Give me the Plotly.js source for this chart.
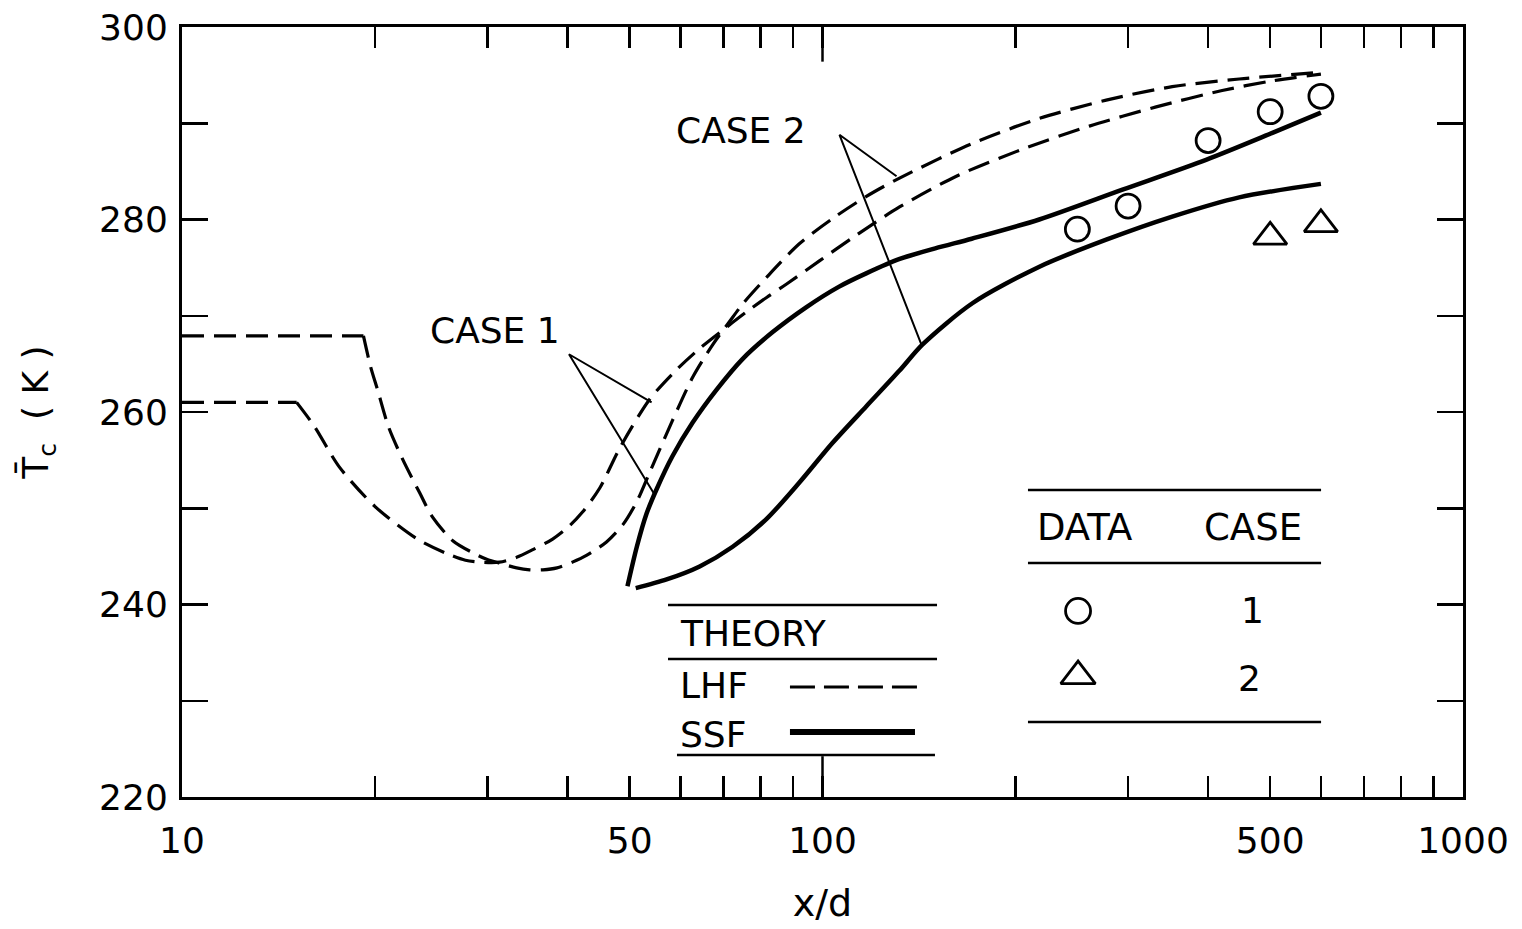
<!DOCTYPE html>
<html>
<head>
<meta charset="utf-8">
<script src="https://cdn.plot.ly/plotly-3.0.1.min.js"></script>
<style>
  html, body { margin: 0; padding: 0; background: #fff; }
  #chart { width: 1522px; height: 929px; }
</style>
</head>
<body>
<div id="chart"></div>
<script>
// Centerline temperature vs. axial distance, LHF and SSF theory with data

// LHF (dashed) theory, case 1 (first two points: the constant initial stretch)
const lhf1X = [10, 15.1, 16.1, 17.6, 20.0, 23.3, 25.9, 27.7, 29.2, 31.3, 33.3, 35.3, 37.9, 40.3, 42.2, 44.9, 48.2, 53.7, 59.2, 64.3, 70.8, 76.1, 81.8, 87.9, 98.9, 111.4, 131.9, 161.8, 205.1, 261, 331.9, 420.7, 503.5, 600];
const lhf1T = [261.0, 261.0, 258.5, 254.3, 250.2, 246.8, 245.3, 244.6, 244.4, 244.4, 244.9, 245.7, 246.8, 248.2, 249.6, 252.1, 256.2, 261.3, 264.4, 266.6, 268.8, 270.4, 271.9, 273.3, 275.7, 278.1, 281.3, 284.5, 287.3, 289.7, 291.7, 293.4, 294.4, 295.1];

// LHF (dashed) theory, case 2 (first two points: the constant initial stretch)
const lhf2X = [10, 19.2, 19.7, 20.2, 21.0, 22.1, 23.5, 24.6, 26.5, 28.4, 29.9, 31.7, 33.3, 34.9, 36.6, 38.5, 40.7, 42.8, 46.0, 48.8, 51.3, 53.7, 58.3, 62.7, 67.4, 71.6, 75.0, 81.8, 92.1, 103.7, 117.1, 131.9, 171.4, 218.1, 277.3, 351.6, 447.3, 600];
const lhf2T = [267.9, 267.9, 264.7, 262.3, 258.5, 255.1, 251.6, 249.1, 246.6, 245.4, 244.7, 244.2, 243.8, 243.6, 243.6, 243.8, 244.4, 245.1, 246.5, 248.3, 250.7, 253.7, 259.1, 263.6, 267.0, 269.4, 271.2, 274.0, 277.5, 280.1, 282.4, 284.3, 287.9, 290.5, 292.4, 293.8, 294.6, 295.3];

// SSF (solid) theory, case 1
const ssf1X = [49.6, 51.3, 53.1, 55.1, 58.3, 62.7, 68.3, 75.0, 83.6, 94.4, 106, 117, 132, 150, 171, 218, 294, 397, 504, 600];
const ssf1T = [241.9, 246.0, 249.4, 252.0, 255.4, 258.9, 262.3, 265.5, 268.3, 270.9, 273.0, 274.4, 275.9, 277.0, 278.0, 280.0, 283.1, 286.2, 289.0, 291.1];

// SSF (solid) theory, case 2
const ssf2X = [51.1, 57.1, 64.3, 72.4, 81.8, 92.1, 103.7, 117.1, 131.9, 143.2, 171.4, 218.1, 277.3, 351.6, 447.3, 600];
const ssf2T = [241.7, 242.6, 243.95, 246.0, 248.9, 252.7, 256.8, 260.6, 264.3, 267.0, 271.3, 275.1, 277.9, 280.3, 282.3, 283.7];

// Measured data
const data1X = [250, 300, 400, 500, 600];
const data1T = [279.0, 281.4, 288.2, 291.2, 292.8];
const data2X = [500, 600];
const data2T = [278.2, 279.5];

// Leader lines from the case labels to their curves
const lead1X = [54.1, 40.2, 54.7];
const lead1T = [261.0, 266.0, 251.4];
const lead2X = [130.5, 106.3, 142.7];
const lead2T = [284.5, 288.8, 267.0];

// Axis ticks
const xTicks = [10, 20, 30, 40, 50, 60, 70, 80, 90, 100, 200, 300, 400, 500, 600, 700, 800, 900, 1000];
const xLabeled = [10, 50, 100, 500, 1000];
const xTickText = xTicks.map(v => xLabeled.includes(v) ? String(v) : '');
const xMajor = 100;
const yTicks = [220, 230, 240, 250, 260, 270, 280, 290, 300];
const yTickText = yTicks.map(v => v % 20 === 0 ? String(v) : '');

const FONT = 'DejaVu Sans, Liberation Sans, sans-serif';
const INK = '#000';
const DASH = '22px,10px';

const line = (x, y, dash, width, shape) => ({
  x, y, type: 'scatter', mode: 'lines',
  line: { color: INK, width, dash, shape, smoothing: shape === 'spline' ? 0.8 : undefined },
  hoverinfo: 'skip', showlegend: false
});

const traces = [
  // LHF: straight initial stretch, then the smooth curve from the break point on
  line(lhf1X.slice(0, 2), lhf1T.slice(0, 2), DASH, 3.2, 'linear'),
  line(lhf1X.slice(1), lhf1T.slice(1), DASH, 3.2, 'spline'),
  line(lhf2X.slice(0, 2), lhf2T.slice(0, 2), DASH, 3.2, 'linear'),
  line(lhf2X.slice(1), lhf2T.slice(1), DASH, 3.2, 'spline'),
  line(ssf1X, ssf1T, 'solid', 4.5, 'spline'),
  line(ssf2X, ssf2T, 'solid', 4.5, 'spline'),
  line(lead1X, lead1T, 'solid', 2, 'linear'),
  line(lead2X, lead2T, 'solid', 2, 'linear'),
  { x: data1X, y: data1T, type: 'scatter', mode: 'markers',
    marker: { symbol: 'circle-open', size: 24, color: INK, line: { width: 2.8, color: INK } }, showlegend: false },
  { x: data2X, y: data2T, type: 'scatter', mode: 'markers',
    marker: { symbol: 'triangle-up-open', size: 29, color: INK, line: { width: 2.8, color: INK } }, showlegend: false },
  // key samples, drawn on a hidden unit-square axis pair
  { x: [0.4746, 0.5738], y: [0.1429, 0.1429], xaxis: 'x3', yaxis: 'y3', type: 'scatter', mode: 'lines',
    line: { color: INK, width: 3, dash: '25px,9px' }, hoverinfo: 'skip', showlegend: false },
  { x: [0.4746, 0.5722], y: [0.0844, 0.0844], xaxis: 'x3', yaxis: 'y3', type: 'scatter', mode: 'lines',
    line: { color: INK, width: 6 }, hoverinfo: 'skip', showlegend: false },
  { x: [0.6995], y: [0.2416], xaxis: 'x3', yaxis: 'y3', type: 'scatter', mode: 'markers',
    marker: { symbol: 'circle-open', size: 25, color: INK, line: { width: 2.8, color: INK } }, hoverinfo: 'skip', showlegend: false },
  { x: [0.6995], y: [0.1571], xaxis: 'x3', yaxis: 'y3', type: 'scatter', mode: 'markers',
    marker: { symbol: 'triangle-up-open', size: 30, color: INK, line: { width: 2.8, color: INK } }, hoverinfo: 'skip', showlegend: false }
];

const rule = (x0, x1, y) => ({
  type: 'line', xref: 'paper', yref: 'paper', x0, x1, y0: y, y1: y,
  line: { color: INK, width: 2.5 }
});

const label = (text, x, y, xanchor, size) => ({
  text, x, y, xref: 'paper', yref: 'paper', xanchor, yanchor: 'middle',
  showarrow: false, font: { family: FONT, size: size || 36, color: INK }
});

const layout = {
  width: 1522, height: 929,
  margin: { l: 182, r: 59, t: 27, b: 132 },
  paper_bgcolor: '#fff', plot_bgcolor: '#fff',
  font: { family: FONT, color: INK },
  showlegend: false,
  xaxis: {
    type: 'log', range: [1, 3],
    tickvals: xTicks, ticktext: xTickText, tickangle: 0,
    ticks: 'inside', ticklen: 21, tickwidth: 2.5, tickcolor: INK,
    showline: true, linewidth: 3, linecolor: INK, mirror: 'allticks',
    showgrid: false, zeroline: false,
    tickfont: { family: FONT, size: 36, color: INK },
    ticklabelstandoff: 10,
    automargin: false,
    title: { text: 'x/d', font: { family: FONT, size: 38, color: INK }, standoff: 30 }
  },
  yaxis: {
    range: [220, 300],
    tickvals: yTicks, ticktext: yTickText, tickangle: 0,
    ticks: 'inside', ticklen: 26, tickwidth: 2.5, tickcolor: INK,
    showline: true, linewidth: 3, linecolor: INK, mirror: 'allticks',
    showgrid: false, zeroline: false,
    tickfont: { family: FONT, size: 36, color: INK },
    ticklabelstandoff: 4,
    automargin: 'left',
    title: { text: 'T\u0304<sub>c</sub>  ( K )', font: { family: FONT, size: 36, color: INK }, standoff: 40 }
  },
  xaxis3: { overlaying: 'x', range: [0, 1], visible: false, fixedrange: true },
  yaxis3: { overlaying: 'y', range: [0, 1], visible: false, fixedrange: true },
  shapes: [
    // longer decade tick at x/d = 100, bottom and top
    { type: 'line', xref: 'x', yref: 'paper', x0: xMajor, x1: xMajor, y0: 0, y1: 0.053, line: { color: INK, width: 2.5 } },
    { type: 'line', xref: 'x', yref: 'paper', x0: xMajor, x1: xMajor, y0: 0.955, y1: 1, line: { color: INK, width: 2.5 } },
    rule(0.3794, 0.5894, 0.2494),
    rule(0.3794, 0.5894, 0.1792),
    rule(0.3864, 0.5878, 0.0545),
    rule(0.6604, 0.8892, 0.3987),
    rule(0.6604, 0.8892, 0.3039),
    rule(0.6604, 0.8892, 0.0974)
  ],
  annotations: [
    label('CASE 1', 0.2443, 0.6052, 'center', 36),
    label('CASE 2', 0.4364, 0.8662, 'center', 36),
    label('THEORY', 0.3872, 0.2117, 'left', 36),
    label('LHF', 0.3872, 0.1442, 'left', 36),
    label('SSF', 0.3872, 0.0818, 'left', 36),
    label('DATA', 0.7049, 0.3494, 'center', 37),
    label('CASE', 0.8361, 0.3494, 'center', 37),
    label('1', 0.8353, 0.2416, 'center', 36),
    label('2', 0.8337, 0.1545, 'center', 36)
  ]
};

Plotly.newPlot('chart', traces, layout, { displayModeBar: false, staticPlot: true });
</script>
</body>
</html>
